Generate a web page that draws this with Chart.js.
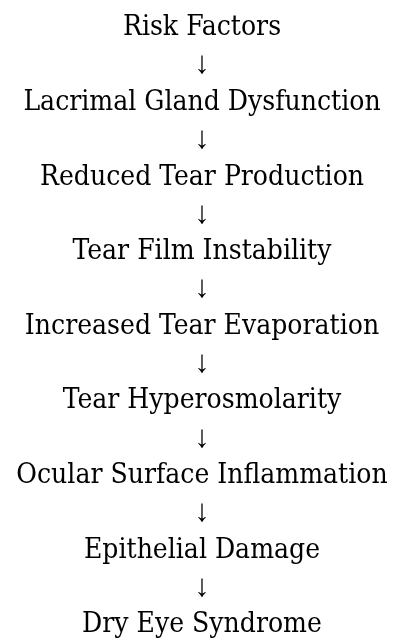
<!DOCTYPE html>
<html>
<head>
<meta charset="utf-8">
<script src="https://cdn.jsdelivr.net/npm/chart.js@4.4.0/dist/chart.umd.min.js"></script>
<style>
html, body { margin: 0; padding: 0; background: #fff; }
canvas { display: block; }
</style>
</head>
<body>
<canvas id="flowChart" width="404" height="643"></canvas>
<script>
const steps = [
    'Risk Factors',
    'Lacrimal Gland Dysfunction',
    'Reduced Tear Production',
    'Tear Film Instability',
    'Increased Tear Evaporation',
    'Tear Hyperosmolarity',
    'Ocular Surface Inflammation',
    'Epithelial Damage',
    'Dry Eye Syndrome'
];
const arrowGlyph = '\u2193';

// a step on every even row, the arrow to the next step on the odd row below it
const rowLabels = [];
steps.forEach((step, i) => {
    rowLabels.push(step);
    if (i < steps.length - 1) rowLabels.push(arrowGlyph);
});
const rowPoints = rowLabels.map((label, i) => ({ x: 0, y: i }));

const flowText = {
    id: 'flowText',
    afterDatasetsDraw(chart) {
        const ctx = chart.ctx;
        const meta = chart.getDatasetMeta(0);
        ctx.save();
        ctx.fillStyle = '#000';
        ctx.textAlign = 'center';
        ctx.textBaseline = 'middle';
        meta.data.forEach((pt, i) => {
            // arrows keep the thin serif glyph, steps use the wider face
            ctx.font = i % 2
                ? '31px "Liberation Serif", serif'
                : '28px "DejaVu Serif Condensed", "DejaVu Serif", serif';
            ctx.fillText(rowLabels[i], pt.x, pt.y);
        });
        ctx.restore();
    }
};

let flowCtx = document.getElementById('flowChart').getContext('2d');
let flowChart = new Chart(flowCtx, {
    type: 'scatter',
    data: {
        labels: rowLabels,
        datasets: [{
            data: rowPoints,
            pointRadius: 0,
            pointHoverRadius: 0
        }]
    },
    options: {
        responsive: false,
        animation: false,
        events: [],
        layout: { padding: 0 },
        plugins: {
            legend: { display: false },
            tooltip: { enabled: false }
        },
        scales: {
            x: { display: false, min: -1, max: 1 },
            y: { display: false, reverse: true, min: -0.75, max: 16.48 }
        }
    },
    plugins: [flowText]
});
</script>
</body>
</html>
